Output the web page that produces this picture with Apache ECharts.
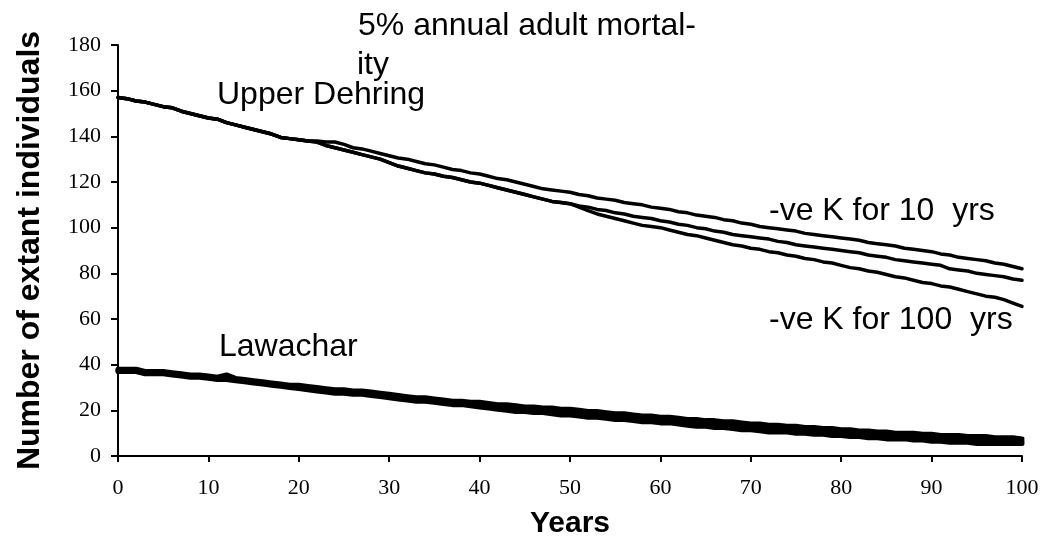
<!DOCTYPE html>
<html><head><meta charset="utf-8">
<script src="https://cdn.jsdelivr.net/npm/echarts@6/dist/echarts.min.js"></script>
<style>html,body{margin:0;padding:0;background:#fff}#c{width:1047px;height:539px}</style>
</head><body><div id="c"></div>
<script>
// Years 0..100 (x positions of the yearly simulation outputs)
const years = Array.from({length: 101}, (_, i) => i);

// Upper Dehring – three scenarios
const upperTop = [157,156.5,155.5,155,154,153,152.5,151,150,149,148,147.5,146,145,144,143,142,141,139.5,139,138.5,138,
  138,137.5,137.5,136.5,135,134.5,133.5,132.5,131.5,130.5,130,129,128,127.5,126.5,125.5,125,124,123.5,122.5,121.5,121,120,119,118,117,116.5,116,115.5,
  114.5,114,113,112.5,112,111,110.5,110,109,108.5,108,107,106.5,105.5,105,104.5,103.5,103,102,101.5,100.5,100,99.5,99,98.5,97.5,97,96.5,96,95.5,
  95,94.5,93.5,93,92.5,92,91,90.5,90,89.5,88.5,88,87,86.5,86,85.5,84.5,84,83,82];
const upperK10 = [157,156.5,155.5,155,154,153,152.5,151,150,149,148,147.5,146,145,144,143,142,141,139.5,139,138.5,138,
  137.5,136,135,134,133,132,131,130,128.5,127,126,125,124,123.5,122.5,122,121,120,119.5,118.5,117.5,116.5,115.5,114.5,113.5,112.5,111.5,111,110.5,
  109.5,109,108,107.5,106.5,106,105,104.5,104,103,102.5,101.5,101,100,99.5,98.5,98,97,96.5,96,95.5,95,94,93.5,92.5,92,91.5,91,90.5,90,
  89.5,89,88,87.5,87,86,85.5,85,84.5,84,83.5,82,81.5,81,80,79.5,79,78.5,77.5,77];
const upperK100 = [157,156.5,155.5,155,154,153,152.5,151,150,149,148,147.5,146,145,144,143,142,141,139.5,139,138.5,138,
  137.5,136,135,134,133,132,131,130,128.5,127,126,125,124,123.5,122.5,122,121,120,119.5,118.5,117.5,116.5,115.5,114.5,113.5,112.5,111.5,111,110.5,
  109,107.5,106,105,104,103,102,101,100.5,100,99,98,97,96.5,95.5,94.5,93.5,92.5,92,91,90.5,89.5,89,88,87.5,86.5,86,85,84.5,83.5,
  82.5,82,81,80.5,79.5,78.5,78,77,76,75.5,74.5,74,73,72,71,70,69.5,68.5,67,65.5];

// Lawachar – three nearly overlapping scenarios
const lawA = [38,38,38,37,37,37,36.5,36,35.5,35.5,35,34.5,35.5,34,33.5,33,32.5,32,31.5,31,31,30.5,30,29.5,29,29,28.5,28.5,28,27.5,
  27,26.5,26,25.5,25.5,25,24.5,24,24,23.5,23.5,23,22.5,22.5,22,21.5,21.5,21,21,20.5,20.5,20,19.5,19.5,19,18.5,18.5,18,17.5,17.5,
  17,17,16.5,16,16,15.5,15.5,15,15,14.5,14,14,13.5,13.5,13,13,12.5,12.5,12,12,11.5,11.5,11,11,10.5,10.5,10,10,10,9.5,
  9.5,9,9,9,8.5,8.5,8.5,8,8,8,7.5];
const lawB = [37.5,37.5,37.5,36.5,36.5,36.5,36,35.5,35,35,34.5,34,34,33.5,33,32.5,32,31.5,31,30.5,30.5,30,29.5,29,28.5,28.5,28,28,27.5,27,
  26.5,26,25.5,25,25,24.5,24,23.5,23.5,23,22.5,22.5,22,21.5,21,21,20.5,20.5,20,19.5,19.5,19,18.5,18.5,18,17.5,17.5,17,16.5,16.5,
  16,16,15.5,15,14.5,14.5,14,14,13.5,13,13,12.5,12,12,12,11.5,11.5,11,11,10.5,10.5,10,10,9.5,9.5,9,9,9,8.5,8.5,
  8,8,7.5,7.5,7.5,7,7,7,7,6.5,6.5];
const lawC = [37,37,37,36,36,36,35.5,35,34.5,34.5,34,33.5,33.5,33,32.5,32,31.5,31,30.5,30,29.5,29,28.5,28,27.5,27.5,27,27,26.5,26,
  25.5,25,24.5,24,24,23.5,23,22.5,22.5,22,21.5,21,20.5,20,19.5,19.5,19,19,18.5,18,18,17.5,17,17,16.5,16,16,15.5,15,15,
  14.5,14.5,14,13.5,13,13,12.5,12.5,12,11.5,11.5,11,10.5,10.5,10.5,10,10,9.5,9.5,9,9,8.5,8.5,8,8,7.5,7.5,7.5,7,7,
  6.5,6.5,6,6,6,5.5,5.5,5.5,5.5,5.5,5.5];

const xTitle = 'Years';
const yTitle = 'Number of extant individuals';
const annotationTexts = ['5% annual adult mortal-', 'ity', 'Upper Dehring', '-ve K for 10  yrs', '-ve K for 100  yrs', 'Lawachar'];

const pair = arr => years.map((x, i) => [x, arr[i]]);
const mk = (name, arr, w) => ({
  name, type: 'line', data: pair(arr), showSymbol: false, symbol: 'none',
  lineStyle: {color: '#000', width: w, join: 'round', cap: 'round'}, itemStyle: {color: '#000'},
  emphasis: {disabled: true}, animation: false
});

const annoFont = '32px "Liberation Sans", Arial, sans-serif';
const annoPos = [[358, 10], [357, 49], [217, 79], [769, 195], [769, 304], [219, 331]];

const chart = echarts.init(document.getElementById('c'), null, {renderer: 'canvas'});
chart.setOption({
  backgroundColor: '#fff',
  animation: false,
  grid: {left: 118, right: 25, top: 45, bottom: 83, containLabel: false, outerBoundsMode: 'none'},
  xAxis: {
    type: 'value', min: 0, max: 100, interval: 10,
    name: xTitle, nameLocation: 'middle', nameGap: 53,
    nameTextStyle: {fontFamily: 'Liberation Sans', fontWeight: 'bold', fontSize: 30, color: '#000'},
    axisLine: {show: true, lineStyle: {color: '#000', width: 2}},
    axisTick: {show: true, length: 6, lineStyle: {color: '#000', width: 2}},
    axisLabel: {fontFamily: 'Liberation Serif', fontSize: 22, color: '#000', margin: 21},
    splitLine: {show: false}
  },
  yAxis: {
    type: 'value', min: 0, max: 180, interval: 20,
    name: yTitle, nameLocation: 'middle', nameGap: 72, nameRotate: 90,
    nameTextStyle: {fontFamily: 'Liberation Sans', fontWeight: 'bold', fontSize: 32, color: '#000'},
    axisLine: {show: true, lineStyle: {color: '#000', width: 2}},
    axisTick: {show: true, length: 7, lineStyle: {color: '#000', width: 2}},
    axisLabel: {fontFamily: 'Liberation Serif', fontSize: 22, color: '#000', margin: 17},
    splitLine: {show: false}
  },
  series: [
    mk('Upper Dehring', upperTop, 3.5),
    mk('Upper Dehring -ve K 10 yrs', upperK10, 3.5),
    mk('Upper Dehring -ve K 100 yrs', upperK100, 3.5),
    mk('Lawachar A', lawA, 5),
    mk('Lawachar B', lawB, 5),
    mk('Lawachar C', lawC, 5)
  ],
  graphic: annotationTexts.map((t, i) => ({
    type: 'text', left: annoPos[i][0], top: annoPos[i][1], silent: true,
    style: {text: t, font: annoFont, fill: '#000'}
  }))
});
</script></body></html>
